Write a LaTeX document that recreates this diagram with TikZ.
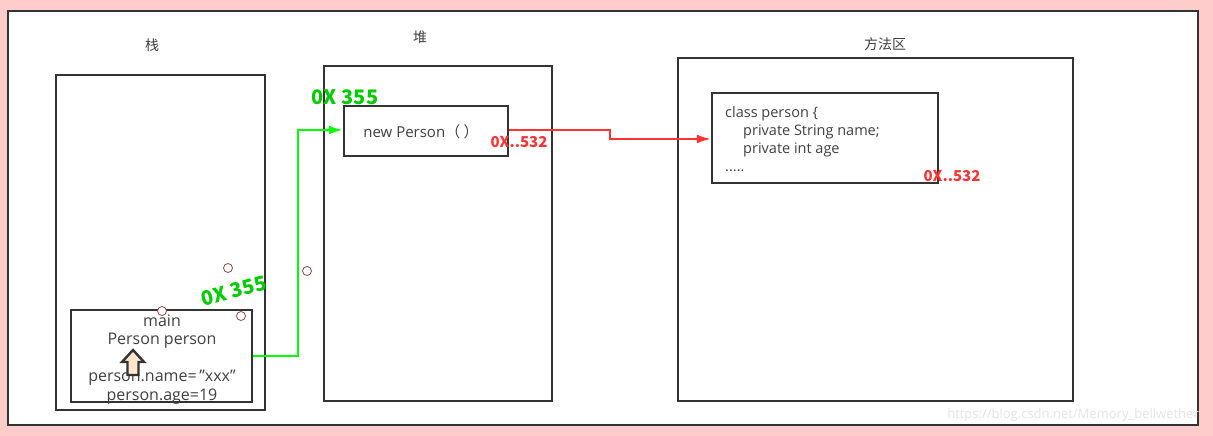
\documentclass[tikz,border=0pt]{standalone}
\usepackage{fontspec}
\setmainfont{Open Sans}
\newfontfamily\cjk{Noto Sans CJK SC}
\usetikzlibrary{arrows.meta}
\definecolor{bgpink}{HTML}{FFCCCC}
\definecolor{frame}{HTML}{333333}
\definecolor{txt}{HTML}{404040}
\definecolor{grn}{HTML}{00CC00}
\definecolor{lgrn}{HTML}{00FF00}
\definecolor{rd}{HTML}{FF3333}
\definecolor{peach}{HTML}{FFE6CC}
\definecolor{dotc}{HTML}{994444}
\tikzset{
  box/.style={draw=frame, line width=2.4pt},
  lbl/.style={text=txt, font=\fontsize{15}{17}\selectfont, inner sep=0pt},
  glbl/.style={text=grn, font=\cjk\fontsize{20}{22}\selectfont\bfseries, inner sep=0pt},
  rlbl/.style={text=rd, font=\cjk\fontsize{15}{17}\selectfont\bfseries, inner sep=0pt},
  dot/.style={draw=dotc, fill=white, circle, minimum size=9pt, inner sep=0pt, line width=0.8pt},
}
\begin{document}
\begin{tikzpicture}[x=1pt,y=-1pt]
\useasboundingbox (0,0) rectangle (1213,436);
\fill[bgpink] (0,0) rectangle (1213,436);
\draw[box, fill=white] (8,11) rectangle (1198,425);
% areas
\draw[box] (56,75) rectangle (265,410);
\draw[box] (324,66) rectangle (552,401);
\draw[box] (678,58) rectangle (1073,401);
\node[lbl, font=\cjk\fontsize{14}{16}\selectfont] (stackT) at (152,45) {栈};
\node[lbl, font=\cjk\fontsize{14}{16}\selectfont] (heapT) at (420,37) {堆};
\node[lbl, font=\cjk\fontsize{14}{16}\selectfont] (methT) at (885,44) {方法区};
% main box
\node[box, minimum width=181pt, minimum height=92pt, inner sep=0pt] (mainbox) at (161.5,356) {};
\node[lbl, font=\fontsize{16}{18}\selectfont] (mainT) at (162,321) {main};
\node[lbl, font=\fontsize{16}{18}\selectfont] (ppT) at (162,341) {Person person};
\node[lbl, font=\fontsize{16}{18}\selectfont] (pnT) at (162,378) {person.name=\,\char"22 xxx\char"22};
\node[lbl, font=\fontsize{16}{18}\selectfont] (paT) at (162,397) {person.age=19};
% up block arrow
\draw[fill=peach, draw=frame, line width=2.4pt, line join=miter]
  (133,350) -- (144,362) -- (138.5,362) -- (138.5,375) -- (127.5,375) -- (127.5,362) -- (122,362) -- cycle;
% heap box
\node[box, minimum width=164pt, minimum height=50pt, inner sep=0pt] (newbox) at (426,131) {};
\node[lbl] (newT) at (421,132) {new Person{\cjk（ ）}};
% class box
\node[box, minimum width=226pt, minimum height=90pt, inner sep=0pt] (classbox) at (825,138) {};
\node[lbl, anchor=west, align=left, font=\fontsize{14.5}{18}\selectfont] (classT) at (725,139)
  {class person \{\\\hspace*{18pt}private String name;\\\hspace*{18pt}private int age\\.....};
% dots
\node[dot] (d1) at (228,268) {};
\node[dot] (d2) at (162,311) {};
\node[dot] (d3) at (241,316) {};
\node[dot] (d4) at (307,271) {};
% green connector
\coordinate (g1) at (298,356);
\coordinate (g2) at (298,130);
\draw[lgrn, line width=2.4pt, -{Latex[length=14pt,width=9pt]}]
  (mainbox.east |- g1) -- (g1) -- (g2) -- (newbox.west |- g2);
% red connector
\coordinate (r1) at (610,130);
\coordinate (r2) at (610,139);
\draw[rd, line width=2pt, -{Latex[length=14pt,width=9pt]}]
  (newbox.east |- r1) -- (r1) -- (r2) -- (classbox.west |- r2);
% labels
\node[glbl, rotate=15] (g355a) at (234,291) {0X 355};
\node[glbl] (g355b) at (345,97) {0X 355};
\node[rlbl] (r532a) at (519,142) {0X..532};
\node[rlbl] (r532b) at (952,176) {0X..532};
% watermark
\node[anchor=east, text=white!80!gray, font=\fontsize{13}{15}\selectfont, inner sep=0pt] (wm) at (1199,415) {https://blog.csdn.net/Memory\_bellwether};
\end{tikzpicture}
\end{document}
